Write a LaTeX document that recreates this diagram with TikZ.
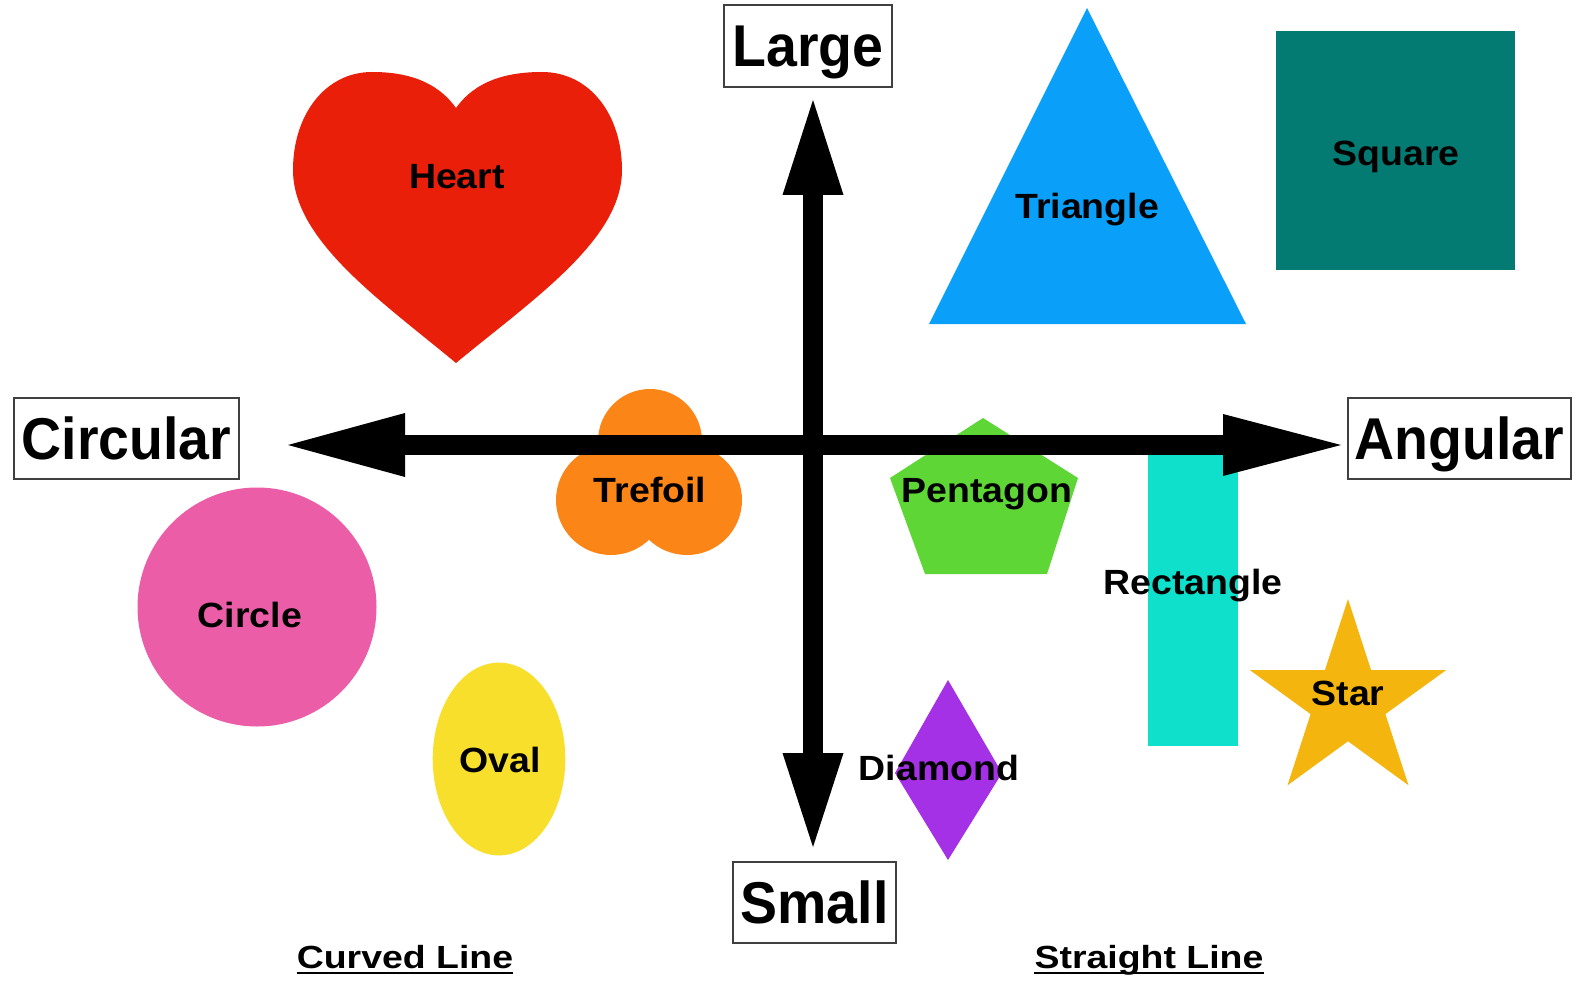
\documentclass[tikz,border=0pt]{standalone}
\usepackage{fontspec}
\setmainfont{Liberation Sans}
\usetikzlibrary{arrows.meta}
\definecolor{cheart}{RGB}{233,31,10}
\definecolor{ctri}{RGB}{10,160,249}
\definecolor{csq}{RGB}{3,122,114}
\definecolor{ctref}{RGB}{252,133,23}
\definecolor{cpent}{RGB}{94,214,54}
\definecolor{crect}{RGB}{15,224,203}
\definecolor{ccirc}{RGB}{236,93,168}
\definecolor{coval}{RGB}{247,223,44}
\definecolor{cdiam}{RGB}{165,49,230}
\definecolor{cstar}{RGB}{243,181,14}
\newcommand{\xsc}[2]{\scalebox{#1}[1]{#2}}
\begin{document}
\begin{tikzpicture}[x=1pt,y=-1pt,
  axislabel/.style={draw=black!75, line width=1.5pt, fill=white, inner sep=0pt,
    font=\fontsize{59}{65}\selectfont\bfseries, text height=45pt, text depth=3pt},
  shapelabel/.style={inner sep=0pt, font=\fontsize{35}{40}\selectfont\bfseries,
    text height=28pt, text depth=3pt},
  sidelabel/.style={inner sep=0pt, anchor=base, font=\fontsize{32}{36}\selectfont\bfseries},
  axis/.style={line width=20pt, black},
  underl/.style={line width=2.5pt, black}
]
\path[use as bounding box] (0,0) rectangle (1575,987);

% shapes
\fill[cheart] (456,108) .. controls (436,80) and (405,72) .. (372,72)
  .. controls (325,72) and (293,115) .. (293,170)
  .. controls (293,240) and (380,300) .. (456,363)
  .. controls (532,300) and (622,240) .. (622,170)
  .. controls (622,115) and (590,72) .. (542,72)
  .. controls (508,72) and (476,80) .. (456,108) -- cycle;
\fill[ctri] (1087,8) -- (1246,324) -- (929,324) -- cycle;
\fill[csq] (1276,31) rectangle (1515,270);
\fill[ctref] (650,441) circle [radius=52];
\fill[ctref] (611,500) circle [radius=55];
\fill[ctref] (687,500) circle [radius=55];
\fill[cpent] (983,418) -- (1078,478) -- (1047,574) -- (925,574) -- (890,478) -- cycle;
\fill[crect] (1148,445) rectangle (1238,746);
\fill[ccirc] (257,607) circle [radius=119.5];
\fill[coval] (499,759) ellipse [x radius=66.3, y radius=96.4];
\fill[cdiam] (948,680) -- (1002,773) -- (948,860) -- (895,773) -- cycle;
\fill[cstar] (1348,599) -- (1324.9,670.2) -- (1250.0,670.2) -- (1310.6,714.1)
  -- (1287.5,785.3) -- (1348,741.3) -- (1408.5,785.3) -- (1385.4,714.1)
  -- (1446.0,670.2) -- (1371.1,670.2) -- cycle;

% axes
\coordinate (west) at (288,445);
\coordinate (east) at (1341,445);
\coordinate (north) at (813,100);
\coordinate (south) at (813,847);
\draw[axis, {Triangle[length=117pt,width=64pt,line width=0pt]}-{Triangle[length=118pt,width=62pt,line width=0pt]}] (west) -- (east);
\draw[axis, {Triangle[length=95pt,width=61pt,line width=0pt]}-{Triangle[length=94pt,width=61pt,line width=0pt]}] (north) -- (south);

% axis labels
\node[axislabel, minimum width=168pt, minimum height=82pt] (large) at (808,46) {\xsc{0.94}{Large}};
\node[axislabel, minimum width=225pt, minimum height=81pt] (circular) at (126.5,438.5) {\xsc{0.94}{Circular}};
\node[axislabel, minimum width=223pt, minimum height=81pt] (angular) at (1459.5,438.5) {\xsc{0.94}{Angular}};
\node[axislabel, minimum width=163pt, minimum height=81pt] (small) at (814.5,902.5) {\xsc{0.94}{Small}};

% shape labels
\node[shapelabel] (lheart) at (457,176) {\xsc{1.07}{Heart}};
\node[shapelabel] (ltri) at (1087,206) {\xsc{1.07}{Triangle}};
\node[shapelabel] (lsq) at (1396,153) {\xsc{1.07}{Square}};
\node[shapelabel] (ltref) at (650,490) {\xsc{1.07}{Trefoil}};
\node[shapelabel] (lpent) at (987,490) {\xsc{1.07}{Pentagon}};
\node[shapelabel] (lrect) at (1193,582) {\xsc{1.07}{Rectangle}};
\node[shapelabel] (lcirc) at (250,615) {\xsc{1.07}{Circle}};
\node[shapelabel] (loval) at (500,760) {\xsc{1.07}{Oval}};
\node[shapelabel] (ldiam) at (939,768) {\xsc{1.07}{Diamond}};
\node[shapelabel] (lstar) at (1348,693) {\xsc{1.07}{Star}};

% bottom labels
\node[sidelabel] (curved) at (405,968) {\xsc{1.17}{Curved Line}};
\node[sidelabel] (straight) at (1149,968) {\xsc{1.17}{Straight Line}};
\draw[underl] ([yshift=-5pt]curved.base west) -- ([yshift=-5pt]curved.base east);
\draw[underl] ([yshift=-5pt]straight.base west) -- ([yshift=-5pt]straight.base east);
\end{tikzpicture}
\end{document}
